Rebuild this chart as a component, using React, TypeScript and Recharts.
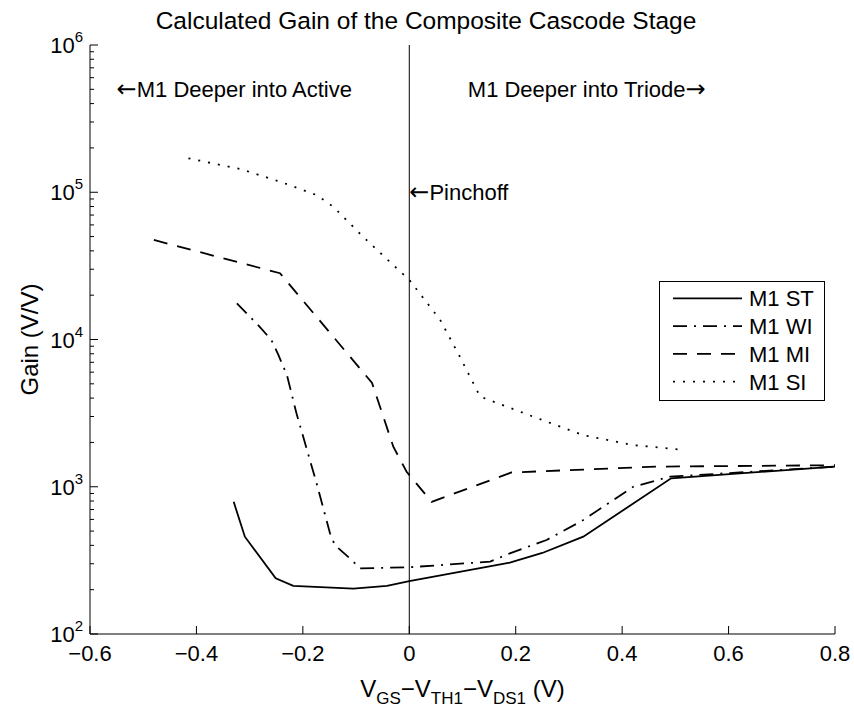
import React from 'react';
import { LineChart, Line, XAxis, YAxis, ReferenceLine, ReferenceDot, Legend } from 'recharts';

const FONT = '"Liberation Sans", Arial, Helvetica, sans-serif';
const ARROW_FONT = '"DejaVu Sans", sans-serif';

// V_GS - V_TH1 - V_DS1 (V) vs. gain (V/V)
const stPoints = [
  { v: -0.33, gain: 790 },
  { v: -0.309, gain: 458 },
  { v: -0.251, gain: 239 },
  { v: -0.218, gain: 212 },
  { v: -0.105, gain: 203 },
  { v: -0.042, gain: 212 },
  { v: 0, gain: 229 },
  { v: 0.189, gain: 305 },
  { v: 0.25, gain: 355 },
  { v: 0.327, gain: 458 },
  { v: 0.492, gain: 1140 },
  { v: 0.8, gain: 1370 },
];

const wiPoints = [
  { v: -0.324, gain: 17600 },
  { v: -0.281, gain: 12200 },
  { v: -0.259, gain: 9900 },
  { v: -0.246, gain: 7850 },
  { v: -0.23, gain: 5740 },
  { v: -0.212, gain: 3150 },
  { v: -0.174, gain: 1050 },
  { v: -0.149, gain: 483 },
  { v: -0.14, gain: 402 },
  { v: -0.108, gain: 318 },
  { v: -0.093, gain: 279 },
  { v: 0, gain: 284 },
  { v: 0.152, gain: 310 },
  { v: 0.189, gain: 353 },
  { v: 0.258, gain: 435 },
  { v: 0.327, gain: 594 },
  { v: 0.421, gain: 1000 },
  { v: 0.49, gain: 1170 },
  { v: 0.8, gain: 1370 },
];

const miPoints = [
  { v: -0.48, gain: 47400 },
  { v: -0.243, gain: 28200 },
  { v: -0.07, gain: 5070 },
  { v: -0.03, gain: 1870 },
  { v: -0.005, gain: 1265 },
  { v: 0.042, gain: 790 },
  { v: 0.192, gain: 1250 },
  { v: 0.465, gain: 1370 },
  { v: 0.8, gain: 1400 },
];

const siPoints = [
  { v: -0.415, gain: 170000 },
  { v: -0.318, gain: 144000 },
  { v: -0.243, gain: 118000 },
  { v: -0.174, gain: 95700 },
  { v: -0.143, gain: 79800 },
  { v: -0.087, gain: 49900 },
  { v: -0.03, gain: 32000 },
  { v: 0, gain: 25400 },
  { v: 0.058, gain: 13600 },
  { v: 0.095, gain: 7640 },
  { v: 0.133, gain: 4100 },
  { v: 0.233, gain: 2990 },
  { v: 0.327, gain: 2240 },
  { v: 0.42, gain: 1920 },
  { v: 0.515, gain: 1780 },
];

const series = [
  { name: 'M1 ST', data: stPoints, dash: undefined as string | undefined },
  { name: 'M1 WI', data: wiPoints, dash: '14 7 2 7' },
  { name: 'M1 MI', data: miPoints, dash: '14 10' },
  { name: 'M1 SI', data: siPoints, dash: '2 8' },
];

const xTicks = [-0.6, -0.4, -0.2, 0, 0.2, 0.4, 0.6, 0.8];
const yDecades = [1e2, 1e3, 1e4, 1e5];
const yTicks = [...yDecades.flatMap(d => [1, 2, 3, 4, 5, 6, 7, 8, 9].map(k => d * k)), 1e6];

// annotations: arrow before or after the text
const notes = [
  { v: -0.55, gain: 5e5, text: 'M1 Deeper into Active', arrow: 'left' },
  { v: 0.11, gain: 5e5, text: 'M1 Deeper into Triode', arrow: 'right' },
  { v: 0, gain: 1e5, text: 'Pinchoff', arrow: 'left' },
];

const fmtX = (v: number) => (v === 0 ? '0' : v < 0 ? '\u2212' + Math.abs(v) : String(v));
const isMajor = (v: number) => {
  const e = Math.round(Math.log10(v));
  return Math.abs(Math.pow(10, e) - v) < 1e-6 * v;
};

const BottomTick = ({ x, y, payload }: any) => (
  <g>
    <line x1={x} y1={y} x2={x} y2={y - 8} stroke="#000" />
    <text x={x} y={y + 27} textAnchor="middle" fontSize={22} fontFamily={FONT} fill="#000">
      {fmtX(payload.value)}
    </text>
  </g>
);

const TopTick = ({ x, y }: any) => <line x1={x} y1={y} x2={x} y2={y + 8} stroke="#000" />;

const LeftTick = ({ x, y, payload }: any) => {
  const v = payload.value;
  const major = isMajor(v);
  return (
    <g>
      <line x1={x} y1={y} x2={x + (major ? 8 : 4)} y2={y} stroke="#000" />
      {major && (
        <text x={x - 7} y={y + 8} textAnchor="end" fontSize={22} fontFamily={FONT} fill="#000">
          <tspan>10</tspan>
          <tspan dy={-11} fontSize={15}>{Math.round(Math.log10(v))}</tspan>
        </text>
      )}
    </g>
  );
};

const RightTick = ({ x, y, payload }: any) => (
  <line x1={x} y1={y} x2={x - (isMajor(payload.value) ? 8 : 4)} y2={y} stroke="#000" />
);

const NoteLabel = (props: any) => {
  const { viewBox, note } = props;
  const x = viewBox.x;
  const y = viewBox.y + 8;
  return (
    <text x={x} y={y} fontSize={22} fontFamily={FONT} fill="#000">
      {note.arrow === 'left' && <tspan fontFamily={ARROW_FONT} fontSize={24}>{'\u2190'}</tspan>}
      <tspan>{note.text}</tspan>
      {note.arrow === 'right' && <tspan fontFamily={ARROW_FONT} fontSize={24}>{'\u2192'}</tspan>}
    </text>
  );
};

const LegendBox = () => (
  <svg width={166} height={120}>
    <rect x={0.5} y={0.5} width={165} height={119} fill="#fff" stroke="#000" />
    {series.map((s, i) => {
      const cy = 17.3 + i * 27.8;
      return (
        <g key={s.name}>
          <line x1={14} x2={83} y1={cy} y2={cy} stroke="#000" strokeWidth={1.8} strokeDasharray={s.dash} />
          <text x={90} y={cy + 8} fontSize={22} fontFamily={FONT} fill="#000">{s.name}</text>
        </g>
      );
    })}
  </svg>
);

export default function App() {
  return (
    <div style={{ position: 'absolute', left: 0, top: 0, width: 854, height: 710, background: '#fff' }}>
      <LineChart width={854} height={710} margin={{ top: 45, right: 19, bottom: 0, left: 0 }}>
        <XAxis
          xAxisId="b" dataKey="v" type="number" domain={[-0.6, 0.8]} ticks={xTicks} interval={0}
          allowDataOverflow height={76} tickSize={0} tickMargin={0} tick={<BottomTick />}
          axisLine={{ stroke: '#000' }}
        />
        <XAxis
          xAxisId="t" orientation="top" type="number" domain={[-0.6, 0.8]} ticks={xTicks} interval={0}
          allowDataOverflow height={0} tickSize={0} tickMargin={0} tick={<TopTick />}
          axisLine={{ stroke: '#000' }}
        />
        <YAxis
          yAxisId="l" type="number" scale="log" domain={[100, 1e6]} ticks={yTicks} interval={0}
          allowDataOverflow width={90} tickSize={0} tickMargin={0} tick={<LeftTick />}
          axisLine={{ stroke: '#000' }}
        />
        <YAxis
          yAxisId="r" orientation="right" type="number" scale="log" domain={[100, 1e6]} ticks={yTicks}
          interval={0} allowDataOverflow width={0} tickSize={0} tickMargin={0} tick={<RightTick />}
          axisLine={{ stroke: '#000' }}
        />
        <ReferenceLine x={0} xAxisId="b" yAxisId="l" stroke="#000" strokeWidth={1} />
        {series.map(s => (
          <Line
            key={s.name}
            name={s.name}
            data={s.data}
            dataKey="gain"
            xAxisId="b"
            yAxisId="l"
            type="linear"
            stroke="#000"
            strokeWidth={1.8}
            strokeDasharray={s.dash}
            dot={false}
            activeDot={false}
            isAnimationActive={false}
          />
        ))}
        {notes.map(n => (
          <ReferenceDot
            key={n.text}
            x={n.v}
            y={n.gain}
            xAxisId="b"
            yAxisId="l"
            r={0}
            fill="none"
            stroke="none"
            label={<NoteLabel note={n} />}
          />
        ))}
        <Legend
          layout="vertical"
          align="center"
          verticalAlign="middle"
          content={() => <LegendBox />}
          wrapperStyle={{ left: 659, top: 281, width: 166, height: 120 }}
        />
      </LineChart>
      <svg
        width={854}
        height={710}
        style={{ position: 'absolute', left: 0, top: 0, pointerEvents: 'none' }}
        fontFamily={FONT}
      >
        <text x={426} y={29} textAnchor="middle" fontSize={24.5} fill="#000">
          Calculated Gain of the Composite Cascode Stage
        </text>
        <text x={38} y={339.5} transform="rotate(-90 38 339.5)" textAnchor="middle" fontSize={24} fill="#000">
          Gain (V/V)
        </text>
        <text x={462.5} y={697} textAnchor="middle" fontSize={24} fill="#000">
          <tspan>V</tspan>
          <tspan fontSize={17} dy={7}>GS</tspan>
          <tspan dy={-7}>{'\u2212V'}</tspan>
          <tspan fontSize={17} dy={7}>TH1</tspan>
          <tspan dy={-7}>{'\u2212V'}</tspan>
          <tspan fontSize={17} dy={7}>DS1</tspan>
          <tspan dy={-7}>{'\u00a0(V)'}</tspan>
        </text>
      </svg>
    </div>
  );
}
